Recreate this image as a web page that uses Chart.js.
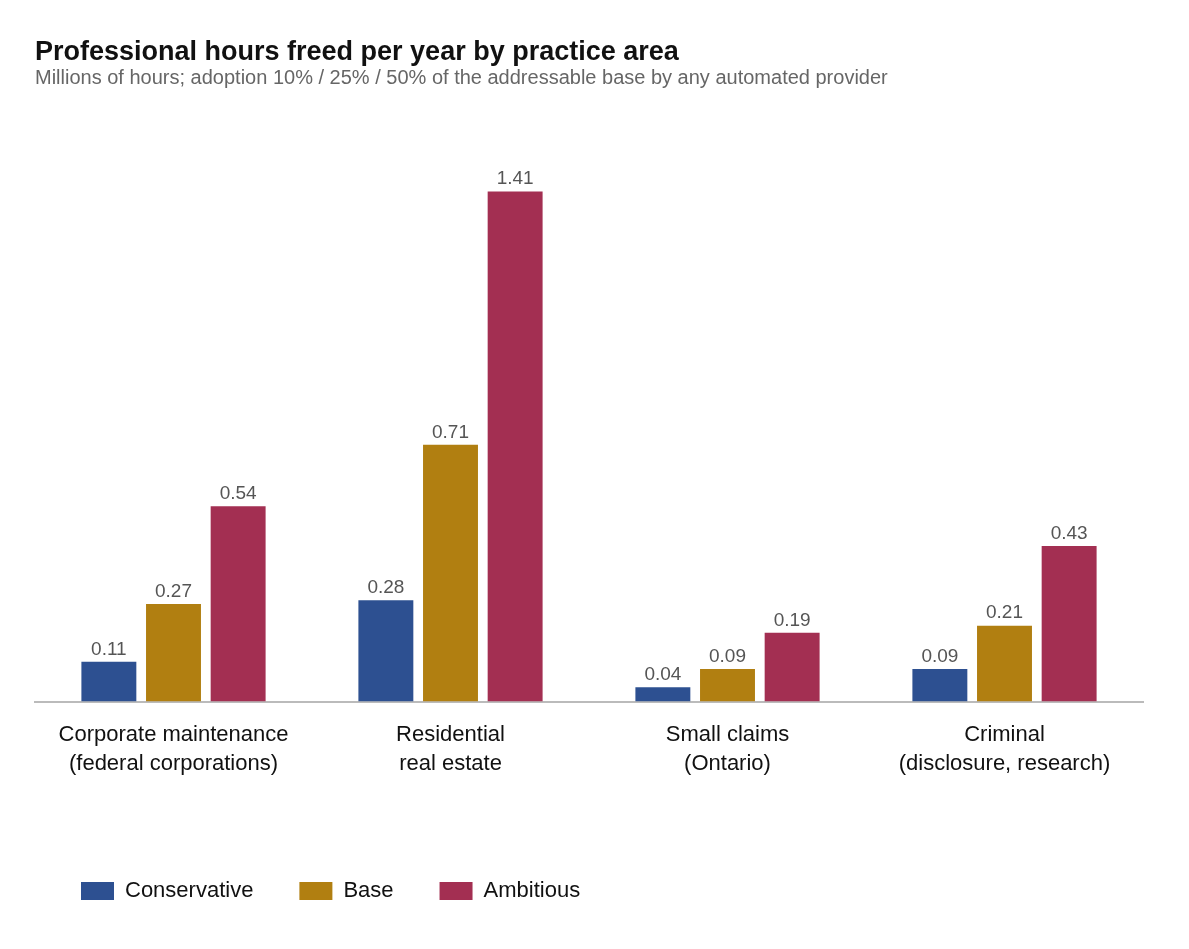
<!DOCTYPE html>
<html><head><meta charset="utf-8">
<script src="https://cdn.jsdelivr.net/npm/chart.js@4"></script>
<style>
body{margin:0;background:#fff;font-family:"Liberation Sans",Arial,sans-serif;}
#wrap{position:relative;width:1189px;height:949px;}
#t{position:absolute;left:35px;top:36px;font-size:27px;font-weight:bold;color:#111;}
#s{position:absolute;left:35px;top:66px;font-size:20px;color:#666;}
canvas{position:absolute;left:0;top:0;}
</style></head><body>
<div id="wrap">
<canvas id="c" width="1189" height="949"></canvas>
<div id="t">Professional hours freed per year by practice area</div>
<div id="s">Millions of hours; adoption 10% / 25% / 50% of the addressable base by any automated provider</div>
</div>
<script>
const categories = [["Corporate maintenance","(federal corporations)"],["Residential","real estate"],["Small claims","(Ontario)"],["Criminal","(disclosure, research)"]];
const conservative = [0.11, 0.28, 0.04, 0.09];
const base = [0.27, 0.71, 0.09, 0.21];
const ambitious = [0.54, 1.41, 0.19, 0.43];

const valueLabels = {
  id: "valueLabels",
  afterDatasetsDraw(chart) {
    const ctx = chart.ctx;
    ctx.save();
    ctx.font = "19px 'Liberation Sans', Arial, sans-serif";
    ctx.fillStyle = "#555";
    ctx.textAlign = "center";
    ctx.textBaseline = "bottom";
    chart.data.datasets.forEach((ds, i) => {
      chart.getDatasetMeta(i).data.forEach((bar, j) => {
        ctx.fillText(ds.data[j].toFixed(2), bar.x, bar.y - 3);
      });
    });
    ctx.restore();
  }
};

new Chart(document.getElementById("c"), {
  type: "bar",
  data: {
    labels: categories,
    datasets: [
      { label: "Conservative", data: conservative, backgroundColor: "#2d5091" },
      { label: "Base", data: base, backgroundColor: "#b17f11" },
      { label: "Ambitious", data: ambitious, backgroundColor: "#a32f52" }
    ]
  },
  options: {
    responsive: false,
    animation: false,
    layout: { padding: { left: 35, right: 46, top: 159, bottom: 37 } },
    datasets: { bar: { categoryPercentage: 0.7, barPercentage: 0.85 } },
    scales: {
      x: {
        grid: { display: false },
        border: { color: "#bbb", width: 2 },
        ticks: { color: "#111", font: { size: 22, family: "'Liberation Sans', Arial", lineHeight: 1.35 }, padding: 10 },
        afterFit(scale) { scale.height += 45; }
      },
      y: { display: false, min: 0, max: 1.5 }
    },
    plugins: {
      tooltip: { enabled: false },
      legend: {
        position: "bottom",
        align: "start",
        labels: { boxWidth: 33, boxHeight: 18, padding: 46, color: "#111", font: { size: 22, family: "'Liberation Sans', Arial" } }
      }
    }
  },
  plugins: [valueLabels]
});
</script>
</body></html>
